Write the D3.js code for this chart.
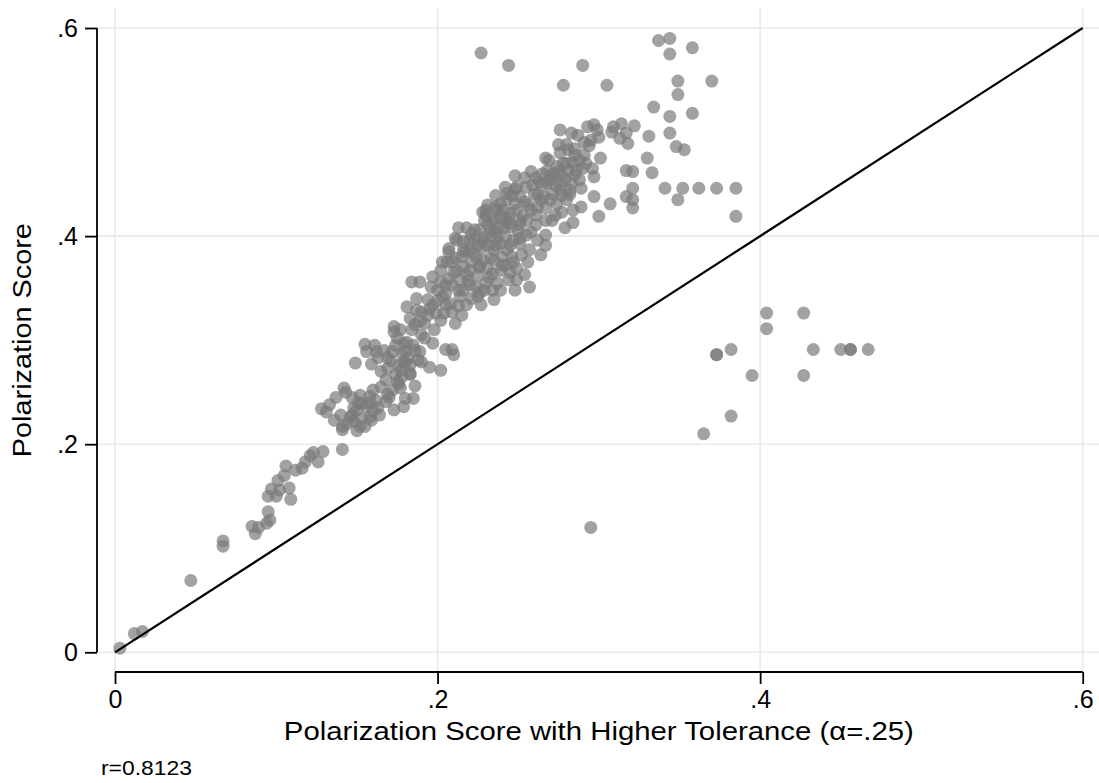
<!DOCTYPE html>
<html>
<head>
<meta charset="utf-8">
<script src="https://cdn.jsdelivr.net/npm/d3@7"></script>
<style>
  html, body { margin: 0; padding: 0; background: #ffffff; }
  svg { display: block; }
  text { font-family: "Liberation Sans", Arial, Helvetica, sans-serif; fill: #000; }
</style>
</head>
<body>
<svg id="chart" width="1099" height="783"></svg>
<script>
// ---- data ----
const xTickValues = [0, 0.2, 0.4, 0.6];
const xTickLabels = ["0", ".2", ".4", ".6"];
const yTickValues = [0, 0.2, 0.4, 0.6];
const yTickLabels = ["0", ".2", ".4", ".6"];
const xTitle = "Polarization Score with Higher Tolerance (\u03b1=.25)";
const yTitle = "Polarization Score";
const noteText = "r=0.8123";
const diagonal = [0, 0.6];

// x: Polarization Score with Higher Tolerance, y: Polarization Score
const tolerance = [
  .003,.012,.017,.047,.067,.067,.085,.087,.094,.095,.109,.097,.101,.106,.105,.095,.100,.108,.102,.116,
  .121,.126,.129,.141,.128,.133,.140,.141,.150,.146,.143,.151,.142,.152,.150,.156,.160,.162,.164,.158,
  .155,.149,.159,.155,.161,.167,.162,.165,.169,.168,.175,.176,.180,.178,.177,.179,.185,.182,.173,.177,
  .181,.185,.181,.183,.187,.184,.189,.141,.152,.147,.179,.189,.190,.195,.202,.197,.198,.205,.209,.210,
  .177,.179,.173,.196,.197,.202,.207,.203,.199,.192,.204,.211,.208,.214,.218,.221,.227,.235,.224,.230,
  .237,.234,.214,.212,.216,.220,.207,.206,.212,.216,.220,.224,.228,.225,.229,.231,.230,.235,.239,.236,
  .239,.235,.240,.235,.239,.246,.247,.243,.242,.247,.251,.255,.258,.257,.254,.257,.248,.246,.245,.251,
  .255,.249,.239,.243,.246,.243,.251,.254,.258,.249,.255,.259,.265,.268,.266,.267,.271,.267,.271,.258,
  .265,.272,.274,.230,.234,.228,.211,.207,.227,.244,.267,.268,.334,.344,.358,.344,.348,.353,.331,.330,
  .321,.317,.333,.321,.317,.321,.321,.307,.300,.297,.341,.352,.362,.349,.322,.317,.318,.313,.314,.309,
  .308,.299,.297,.300,.295,.293,.283,.280,.285,.291,.275,.276,.269,.274,.284,.288,.292,.286,.296,.297,
  .288,.283,.289,.278,.275,.277,.277,.280,.277,.284,.289,.284,.242,.251,.337,.344,.344,.358,.290,.278,
  .305,.349,.370,.349,.373,.385,.385,.404,.427,.404,.382,.373,.373,.433,.450,.456,.456,.467,.395,.427,
  .382,.365,.295,
  .233,.237,.231,.226,.221,.218,.225,.231,.220,.213,.209,.241,.244,.248,.237,.231,.226,.223,.217,.205,
  .200,.194,.190,.186,.174,.169,.192,.188,.183,.173,.159,.251,.261,.264,.276,.281,
  .131,.136,.144,.148,.153,.137,.147,
  .153,.158,.163,.168,.172,.174,.169,.163,.156,.172,.180,.183,.186,.180,.175,.184,.189,.194,.187,
  .197,.205,.209,.202,.213,.215,.202,.209,.216,.211,.216,.220,.223,.218,.203,.213,
  .229,.239,.244,.242,.249,.252,.256,.249,.225,.234,.228,.233,.245,.236,.241,.236,.248,.254,.261,.262,
  .261,.262,.264,.267,
  .270,.273,.279,.282,.285,.281,.291,.287,.276,.294,.301,.273,.279,.267,.270,
  .089,.096,.112,.118,.123,
  .215,.222,.228,.233,.238,.244,.226,.232,.240,.245,.219,.226,.250,.253,.256,.260,.263,.270,.262,.248,
  .242,.236,.229,.221,.210,.205,.200,.195,.190,.186,.178,.171,.165,.158,.148,.160,.170,.176,.183,.280,
  .285,.290,.282,.276
];
const polarization = [
  .004,.018,.020,.069,.107,.102,.121,.114,.124,.135,.147,.157,.165,.179,.170,.150,.150,.158,.156,.177,
  .189,.183,.193,.195,.234,.238,.228,.214,.213,.226,.250,.240,.254,.247,.233,.236,.252,.242,.228,.226,
  .217,.278,.277,.296,.295,.290,.289,.270,.248,.262,.260,.276,.278,.265,.254,.236,.244,.283,.308,.310,
  .298,.295,.332,.321,.340,.356,.356,.217,.217,.228,.297,.289,.279,.274,.271,.297,.310,.291,.291,.286,
  .271,.279,.313,.351,.361,.367,.359,.342,.326,.316,.326,.316,.335,.342,.334,.340,.334,.339,.351,.355,
  .355,.364,.358,.367,.371,.367,.385,.375,.396,.395,.387,.380,.377,.391,.399,.411,.420,.417,.419,.404,
  .393,.387,.380,.377,.367,.380,.375,.387,.399,.396,.398,.401,.404,.387,.363,.351,.348,.409,.422,.415,
  .415,.425,.431,.435,.439,.441,.438,.433,.425,.447,.447,.449,.449,.451,.438,.427,.415,.401,.441,.462,
  .460,.460,.431,.425,.414,.423,.398,.388,.576,.564,.475,.463,.524,.515,.518,.499,.486,.483,.496,.475,
  .462,.463,.461,.446,.438,.435,.427,.431,.419,.438,.446,.446,.446,.435,.506,.499,.489,.494,.508,.505,
  .500,.502,.507,.495,.492,.505,.499,.488,.484,.478,.488,.480,.473,.467,.471,.473,.470,.463,.465,.457,
  .454,.451,.446,.470,.462,.459,.439,.435,.423,.425,.428,.413,.415,.393,.588,.590,.575,.581,.564,.545,
  .545,.549,.549,.536,.446,.446,.419,.326,.326,.311,.291,.286,.286,.291,.291,.291,.291,.291,.266,.266,
  .227,.210,.120,
  .406,.398,.391,.372,.375,.363,.362,.369,.353,.348,.375,.408,.417,.431,.425,.430,.406,.396,.385,.353,
  .348,.339,.327,.315,.295,.283,.302,.281,.267,.233,.223,.411,.420,.435,.444,.463,
  .231,.223,.220,.235,.225,.245,.245,
  .239,.246,.235,.241,.252,.267,.273,.283,.289,.289,.289,.276,.256,.244,.302,.310,.318,.324,.329,
  .334,.334,.327,.319,.333,.324,.356,.353,.348,.379,.387,.396,.406,.408,.375,.408,
  .348,.348,.358,.372,.369,.382,.375,.358,.342,.348,.389,.379,.391,.391,.425,.439,.458,.456,.456,.440,
  .411,.396,.382,.391,
  .454,.449,.454,.444,.459,.483,.490,.497,.502,.487,.475,.420,.408,.415,.435,
  .120,.127,.175,.183,.192,
  .380,.384,.395,.400,.408,.412,.370,.360,.372,.365,.357,.346,.405,.420,.430,.440,.452,.458,.428,.445,
  .447,.428,.415,.402,.365,.345,.338,.330,.305,.290,.287,.280,.255,.240,.222,.232,.245,.258,.268,.470,
  .478,.465,.440,.450
];

// ---- layout ----
const W = 1099, H = 783;
const svg = d3.select("#chart");

const x = d3.scaleLinear().domain([0, 0.6]).range([115, 1082.7]);
const y = d3.scaleLinear().domain([0, 0.6]).range([652.3, 28]);

const plotLeft = 97, plotRight = 1099, plotTop = 8, xAxisY = 672;

// grid
const grid = svg.append("g").attr("class", "grid");
grid.selectAll("line.h").data(yTickValues).join("line")
  .attr("x1", plotLeft).attr("x2", plotRight)
  .attr("y1", d => y(d)).attr("y2", d => y(d))
  .attr("stroke", "#e9e9e9").attr("stroke-width", 1.6);
grid.selectAll("line.v").data(xTickValues).join("line")
  .attr("x1", d => x(d)).attr("x2", d => x(d))
  .attr("y1", plotTop).attr("y2", xAxisY)
  .attr("stroke", "#e9e9e9").attr("stroke-width", 1.6);

// points
const pts = tolerance.map((v, i) => ({ x: v, y: polarization[i] }));
svg.append("g").selectAll("circle").data(pts).join("circle")
  .attr("cx", d => x(d.x)).attr("cy", d => y(d.y)).attr("r", 6.5)
  .attr("fill", "rgb(123,123,123)").attr("fill-opacity", 0.7);

// 45-degree line
svg.append("line")
  .attr("x1", x(diagonal[0])).attr("y1", y(diagonal[0]))
  .attr("x2", x(diagonal[1])).attr("y2", y(diagonal[1]))
  .attr("stroke", "#000").attr("stroke-width", 2.2);

// axes
const fs = 25;
const yAxis = d3.axisLeft(y).tickValues(yTickValues)
  .tickFormat((d, i) => yTickLabels[i]).tickSize(12).tickPadding(7);
const gy = svg.append("g").attr("transform", `translate(${plotLeft},0)`).call(yAxis);
const xAxis = d3.axisBottom(x).tickValues(xTickValues)
  .tickFormat((d, i) => xTickLabels[i]).tickSize(12).tickPadding(6);
const gx = svg.append("g").attr("transform", `translate(0,${xAxisY})`).call(xAxis);

[gx, gy].forEach(g => {
  g.select(".domain").attr("stroke", "#000").attr("stroke-width", 1.8);
  g.selectAll(".tick line").attr("stroke", "#000").attr("stroke-width", 1.8);
  g.selectAll(".tick text").attr("font-size", fs)
    .attr("font-family", "'Liberation Sans', Arial, sans-serif").attr("fill", "#000");
});
gy.select(".domain").attr("d", `M0,${y(0.6)}V${y(0)}`);
gx.select(".domain").attr("d", `M${x(0)},0H${x(0.6)}`);

// titles
svg.append("text")
  .attr("x", (x(0) + x(0.6)) / 2).attr("y", 740)
  .attr("text-anchor", "middle").attr("font-size", 26)
  .attr("textLength", 630).attr("lengthAdjust", "spacingAndGlyphs")
  .text(xTitle);

svg.append("text")
  .attr("transform", `translate(31,${(y(0) + y(0.6)) / 2}) rotate(-90)`)
  .attr("text-anchor", "middle").attr("font-size", 26)
  .attr("textLength", 234).attr("lengthAdjust", "spacingAndGlyphs")
  .text(yTitle);

svg.append("text")
  .attr("x", 101).attr("y", 775)
  .attr("font-size", 21)
  .attr("textLength", 91).attr("lengthAdjust", "spacingAndGlyphs")
  .text(noteText);
</script>
</body>
</html>
